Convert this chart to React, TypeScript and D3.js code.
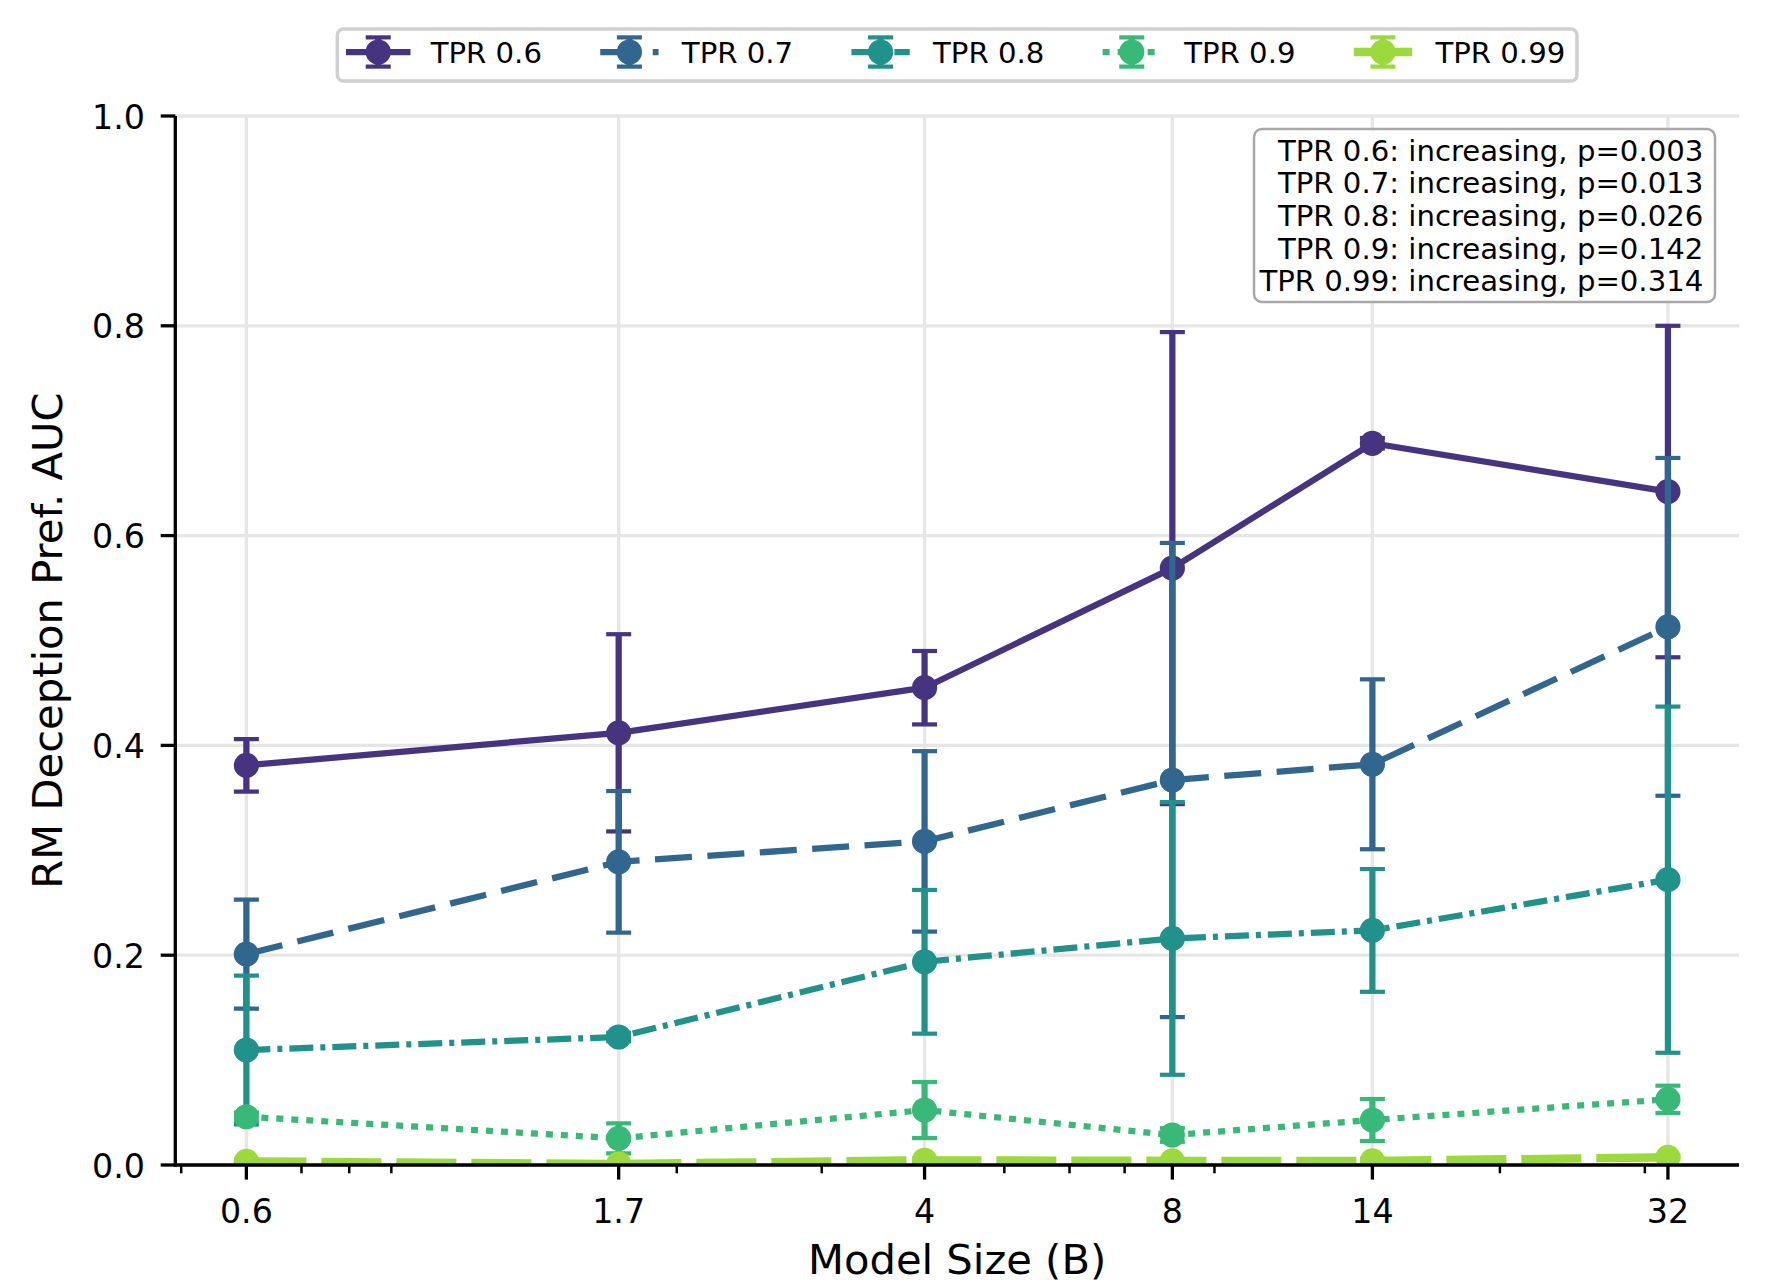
import React from "react";
import * as d3 from "d3";

// Model sizes (billions of parameters) on the x axis
const modelSizes = [0.6, 1.7, 4, 8, 14, 32];
const xTickLabels = ["0.6", "1.7", "4", "8", "14", "32"];
const yTicks = [0, 0.2, 0.4, 0.6, 0.8, 1.0];

const seriesNames = ["TPR 0.6", "TPR 0.7", "TPR 0.8", "TPR 0.9", "TPR 0.99"];

// mean AUC and error half-widths per TPR threshold
const tpr06 = [0.381, 0.412, 0.455, 0.569, 0.688, 0.642];
const tpr06Err = [0.025, 0.094, 0.035, 0.225, 0.005, 0.158];
const tpr07 = [0.201, 0.289, 0.3085, 0.367, 0.382, 0.513];
const tpr07Err = [0.052, 0.0675, 0.086, 0.226, 0.081, 0.161];
const tpr08 = [0.1096, 0.122, 0.1937, 0.216, 0.2236, 0.272];
const tpr08Err = [0.071, 0.004, 0.0685, 0.13, 0.0585, 0.165];
const tpr09 = [0.046, 0.0254, 0.0524, 0.0286, 0.0429, 0.0626];
const tpr09Err = [0.004, 0.0143, 0.0267, 0.0065, 0.02, 0.013];
const tpr099 = [0.0035, 0.001, 0.0045, 0.004, 0.004, 0.0073];
const tpr099Err = [0.002, 0.001, 0.002, 0.002, 0.002, 0.002];

const trendLines = [
  "TPR 0.6: increasing, p=0.003",
  "TPR 0.7: increasing, p=0.013",
  "TPR 0.8: increasing, p=0.026",
  "TPR 0.9: increasing, p=0.142",
  "TPR 0.99: increasing, p=0.314",
];

const allValues = [tpr06, tpr07, tpr08, tpr09, tpr099];
const allErrors = [tpr06Err, tpr07Err, tpr08Err, tpr09Err, tpr099Err];

// styling
const FONT = "'DejaVu Sans', 'Liberation Sans', sans-serif";
const dashes = ["", "37 15.5", "24 7 5 7", "7 8", "60 15"];
const lineWidths = [6.25, 6.25, 6.25, 6.25, 8.3];
const colors = seriesNames.map((_, i) => d3.interpolateViridis(0.15 + i * 0.175));

const W = 1768;
const H = 1284;
const left = 175.3;
const right = 1739;
const top = 116;
const bottom = 1165;

const measure = (() => {
  let ctx: CanvasRenderingContext2D | null = null;
  return (txt: string, size: number) => {
    if (!ctx) ctx = document.createElement("canvas").getContext("2d");
    if (!ctx) return txt.length * size * 0.6;
    ctx.font = `${size}px "DejaVu Sans"`;
    return ctx.measureText(txt).width;
  };
})();

const App = () => {
  const lo = Math.log10(modelSizes[0]);
  const hi = Math.log10(modelSizes[modelSizes.length - 1]);
  const m = (hi - lo) * 0.05;
  const x = d3.scaleLog().domain([10 ** (lo - m), 10 ** (hi + m)]).range([left, right]);
  const y = d3.scaleLinear().domain([0, 1]).range([bottom, top]);

  // log minor ticks (2..9 per decade), skipping the labelled ones
  const minorTicks = x
    .ticks(30)
    .filter((t) => {
      const mant = t / 10 ** Math.floor(Math.log10(t) + 1e-9);
      return Math.abs(mant - 1) > 1e-6 && !modelSizes.some((s) => Math.abs(s - t) < 1e-6);
    });

  const line = d3
    .line<number>()
    .x((_, i) => x(modelSizes[i]))
    .y((d) => y(d));

  const capHalf = 12.5;
  const markerR = 10.5;

  // legend layout
  const legFs = 29.17;
  const handleLen = 58.3;
  const handlePad = 23.3;
  const colSpace = 58.3;
  const borderPad = 11.7;
  const widths = seriesNames.map((n) => handleLen + handlePad + measure(n, legFs));
  const innerW = d3.sum(widths) + colSpace * (widths.length - 1);
  const legLeft = (left + right) / 2 - innerW / 2 - borderPad;
  const legTop = 29;
  const legH = 52;
  const legY = 52;
  let cursor = legLeft + borderPad;
  const legendItems = seriesNames.map((n, i) => {
    const x0 = cursor;
    cursor += widths[i] + colSpace;
    return { n, i, x0 };
  });

  // annotation
  const annFs = 29.17;
  const annRight = right - 35.7;
  const annTop = 129;
  const annLine = 32.7;

  return (
    <div style={{ position: "absolute", left: 0, top: 0 }}>
      <svg width={W} height={H} style={{ display: "block", background: "#fff" }} fontFamily={FONT}>
        <defs>
          <clipPath id="plotclip">
            <rect x={left} y={top} width={right - left} height={bottom - top} />
          </clipPath>
        </defs>

        {/* grid */}
        <g stroke="#e6e6e6" strokeWidth={3.3}>
          {yTicks.map((t) => (
            <line key={"gy" + t} x1={left} x2={right} y1={y(t)} y2={y(t)} />
          ))}
          {modelSizes.map((s) => (
            <line key={"gx" + s} x1={x(s)} x2={x(s)} y1={top} y2={bottom} />
          ))}
        </g>

        {/* series */}
        <g clipPath="url(#plotclip)">
          {allValues.map((vals, si) => (
            <g key={si} stroke={colors[si]} fill={colors[si]}>
              {vals.map((v, i) => {
                const cx = x(modelSizes[i]);
                const e = allErrors[si][i];
                return (
                  <g key={i}>
                    <line x1={cx} x2={cx} y1={y(v - e)} y2={y(v + e)} strokeWidth={6.25} />
                    <line x1={cx - capHalf} x2={cx + capHalf} y1={y(v - e)} y2={y(v - e)} strokeWidth={4.2} />
                    <line x1={cx - capHalf} x2={cx + capHalf} y1={y(v + e)} y2={y(v + e)} strokeWidth={4.2} />
                  </g>
                );
              })}
              <path
                d={line(vals) || ""}
                fill="none"
                strokeWidth={lineWidths[si]}
                strokeDasharray={dashes[si] || undefined}
                strokeLinejoin="round"
              />
              {vals.map((v, i) => (
                <circle key={"m" + i} cx={x(modelSizes[i])} cy={y(v)} r={markerR} strokeWidth={4.2} />
              ))}
            </g>
          ))}
        </g>

        {/* axes */}
        <g stroke="#000">
          <line x1={left} x2={left} y1={top} y2={bottom + 1.6} strokeWidth={3.3} />
          <line x1={left - 1.6} x2={right} y1={bottom} y2={bottom} strokeWidth={3.3} />
          {yTicks.map((t) => (
            <line key={"ty" + t} x1={left - 14.6} x2={left} y1={y(t)} y2={y(t)} strokeWidth={3.3} />
          ))}
          {modelSizes.map((s) => (
            <line key={"tx" + s} x1={x(s)} x2={x(s)} y1={bottom} y2={bottom + 14.6} strokeWidth={3.3} />
          ))}
          {minorTicks.map((t) => (
            <line key={"mx" + t} x1={x(t)} x2={x(t)} y1={bottom} y2={bottom + 8.3} strokeWidth={2.5} />
          ))}
        </g>
        <g fontSize={33.3} fill="#000">
          {yTicks.map((t) => (
            <text key={"ly" + t} x={145} y={y(t) + 12.5} textAnchor="end">
              {t.toFixed(1)}
            </text>
          ))}
          {modelSizes.map((s, i) => (
            <text key={"lx" + s} x={x(s)} y={1223} textAnchor="middle">
              {xTickLabels[i]}
            </text>
          ))}
        </g>
        <text x={(left + right) / 2} y={1274} textAnchor="middle" fontSize={41.67}>
          Model Size (B)
        </text>
        <text
          transform={`translate(62,${(top + bottom) / 2}) rotate(-90)`}
          textAnchor="middle"
          fontSize={41.67}
        >
          RM Deception Pref. AUC
        </text>

        {/* legend */}
        <rect
          x={legLeft}
          y={legTop}
          width={innerW + 2 * borderPad}
          height={legH}
          rx={6}
          fill="#fff"
          fillOpacity={0.8}
          stroke="#d0d0d0"
          strokeWidth={3.5}
        />
        {legendItems.map(({ n, i, x0 }) => {
          const cx = x0 + handleLen / 2;
          return (
            <g key={n} stroke={colors[i]} fill={colors[i]}>
              <line x1={cx} x2={cx} y1={legY - 14.6} y2={legY + 14.6} strokeWidth={6.25} />
              <line x1={cx - capHalf} x2={cx + capHalf} y1={legY - 14.6} y2={legY - 14.6} strokeWidth={4.2} />
              <line x1={cx - capHalf} x2={cx + capHalf} y1={legY + 14.6} y2={legY + 14.6} strokeWidth={4.2} />
              <line
                x1={x0}
                x2={x0 + handleLen}
                y1={legY}
                y2={legY}
                strokeWidth={lineWidths[i]}
                strokeDasharray={dashes[i] || undefined}
                strokeLinecap={dashes[i] ? "butt" : "square"}
              />
              <circle cx={cx} cy={legY} r={markerR} strokeWidth={4.2} />
              <text x={x0 + handleLen + handlePad} y={63.3} fontSize={legFs} fill="#000" stroke="none">
                {n}
              </text>
            </g>
          );
        })}

        {/* trend annotation */}
        <rect
          x={1254}
          y={annTop}
          width={annRight + 11.7 - 1254}
          height={173}
          rx={8}
          fill="#fff"
          fillOpacity={0.8}
          stroke="#a8a8a8"
          strokeWidth={2.5}
        />
        {trendLines.map((t, i) => (
          <text key={t} x={annRight} y={160.5 + i * annLine} textAnchor="end" fontSize={annFs}>
            {t}
          </text>
        ))}
      </svg>
    </div>
  );
};

export default App;
